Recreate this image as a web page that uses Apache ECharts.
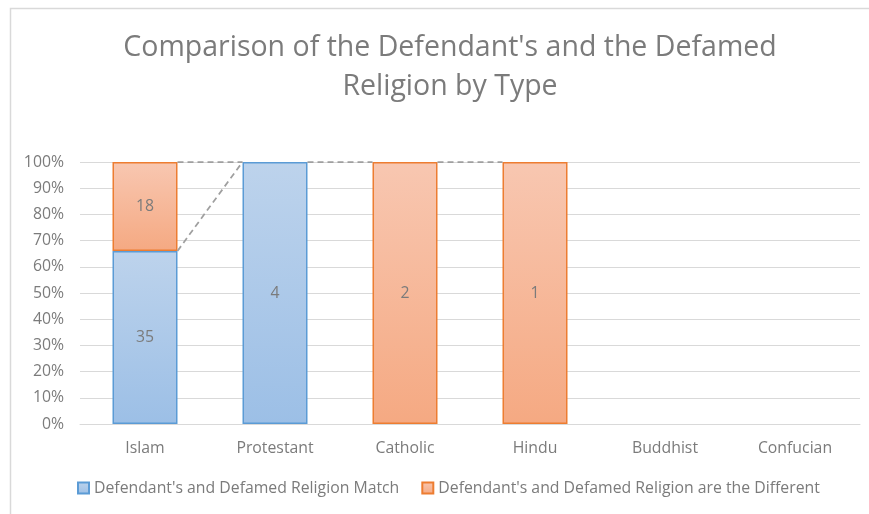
<!DOCTYPE html>
<html>
<head>
    <meta charset="UTF-8">
    <title>Defendant vs Defamed Religion</title>
    <script type="text/javascript" src="https://cdn.jsdelivr.net/npm/echarts@6/dist/echarts.min.js"></script>
</head>
<body style="margin:0;">
    <div id="main" style="width:869px; height:514px;"></div>
    <script>
        // data
        var categories = ["Islam", "Protestant", "Catholic", "Hindu", "Buddhist", "Confucian"];
        var matchCounts = [35, 4, null, null, null, null];
        var diffCounts = [18, 0, 2, 1, null, null];
        var seriesNames = ["Defendant's and Defamed Religion Match",
                           "Defendant's and Defamed Religion are the Different"];
        var yTicks = [0, 10, 20, 30, 40, 50, 60, 70, 80, 90, 100];

        var textGray = '#7b7b7b';
        var fontName = 'Open Sans';
        var smallSize = 15.8;

        function total(i) {
            return (matchCounts[i] || 0) + (diffCounts[i] || 0);
        }
        function pct(arr, i) {
            if (arr[i] == null || arr[i] === 0) return '-';
            return arr[i] / total(i) * 100;
        }
        // cumulative top of each stacked segment, null when segment missing
        function topOf(s, i) {
            var t = total(i);
            if (!t) return null;
            if (s === 0) return matchCounts[i] == null ? null : matchCounts[i] / t * 100;
            return diffCounts[i] == null ? null : ((matchCounts[i] || 0) + diffCounts[i]) / t * 100;
        }
        var connectorData = [];
        for (var i = 0; i < categories.length - 1; i++) {
            var row = [i];
            for (var s = 0; s < 2; s++) {
                var a = topOf(s, i), b = topOf(s, i + 1);
                row.push(a == null || b == null ? -1 : a, a == null || b == null ? -1 : b);
            }
            connectorData.push(row);
        }

        function grad(top, bottom) {
            return new echarts.graphic.LinearGradient(0, 0, 0, 1, [
                {offset: 0, color: top}, {offset: 1, color: bottom}
            ]);
        }

        var chart = echarts.init(document.getElementById('main'), null, {renderer: 'canvas'});

        var option = {
            animation: false,
            backgroundColor: '#ffffff',
            textStyle: {fontFamily: fontName},
            graphic: [{
                type: 'rect',
                shape: {x: 10.5, y: 8.5, width: 900, height: 600},
                style: {fill: 'none', stroke: '#d9d9d9', lineWidth: 1.5},
                silent: true, z: -10
            }],
            title: {
                text: "Comparison of the Defendant's and the Defamed\nReligion by Type",
                left: 445, top: 23, textAlign: 'center',
                textStyle: {color: textGray, fontSize: 28.5, fontWeight: 'normal',
                            fontFamily: fontName, lineHeight: 39}
            },
            legend: {
                data: seriesNames,
                left: 72, top: 475,
                orient: 'horizontal',
                itemWidth: 11, itemHeight: 11, itemGap: 22, itemTextGap: 4,
                icon: 'rect',
                textStyle: {color: textGray, fontSize: smallSize, fontFamily: fontName}
            },
            grid: {left: 80, right: 9, top: 162, bottom: 90, containLabel: false},
            xAxis: {
                type: 'category',
                data: categories,
                axisTick: {show: false},
                axisLine: {lineStyle: {color: '#d9d9d9', width: 1}},
                axisLabel: {color: textGray, fontSize: smallSize, margin: 16, fontFamily: fontName}
            },
            yAxis: {
                type: 'value',
                min: yTicks[0], max: yTicks[yTicks.length - 1], interval: 10,
                axisLine: {show: false},
                axisTick: {show: false},
                axisLabel: {color: textGray, fontSize: smallSize, margin: 16, formatter: '{value}%', fontFamily: fontName},
                splitLine: {lineStyle: {color: '#d9d9d9', width: 1}}
            },
            series: [
                {
                    name: seriesNames[0],
                    type: 'bar', stack: 'r', barWidth: '50%',
                    data: categories.map(function (c, i) { return pct(matchCounts, i); }),
                    itemStyle: {color: grad('#bdd3ec', '#9cbfe6'), borderColor: '#5b9bd5', borderWidth: 1.5},
                    label: {
                        show: true, position: 'inside', color: textGray, fontSize: smallSize, fontFamily: fontName,
                        formatter: function (p) { return matchCounts[p.dataIndex]; }
                    }
                },
                {
                    name: seriesNames[1],
                    type: 'bar', stack: 'r', barWidth: '50%',
                    data: categories.map(function (c, i) { return pct(diffCounts, i); }),
                    itemStyle: {color: grad('#f8c7b1', '#f5a982'), borderColor: '#ed7d31', borderWidth: 1.5},
                    label: {
                        show: true, position: 'inside', color: textGray, fontSize: smallSize, fontFamily: fontName,
                        formatter: function (p) { return diffCounts[p.dataIndex]; }
                    }
                },
                {
                    // Excel style series lines between neighbouring columns
                    type: 'custom',
                    silent: true,
                    z: 5,
                    data: connectorData,
                    renderItem: function (params, api) {
                        var idx = api.value(0);
                        var band = api.size([1, 0])[0];
                        var half = band * 0.25;
                        var kids = [];
                        for (var s = 0; s < 2; s++) {
                            var a = api.value(1 + s * 2), b = api.value(2 + s * 2);
                            if (a < 0 || b < 0) continue;
                            var p1 = api.coord([idx, a]);
                            var p2 = api.coord([idx + 1, b]);
                            kids.push({
                                type: 'line',
                                shape: {x1: p1[0] + half, y1: p1[1], x2: p2[0] - half, y2: p2[1]},
                                style: {stroke: '#9f9f9f', lineWidth: 1.75, lineDash: [6, 4]}
                            });
                        }
                        return {type: 'group', children: kids};
                    }
                }
            ]
        };
        chart.setOption(option);
    </script>
</body>
</html>
